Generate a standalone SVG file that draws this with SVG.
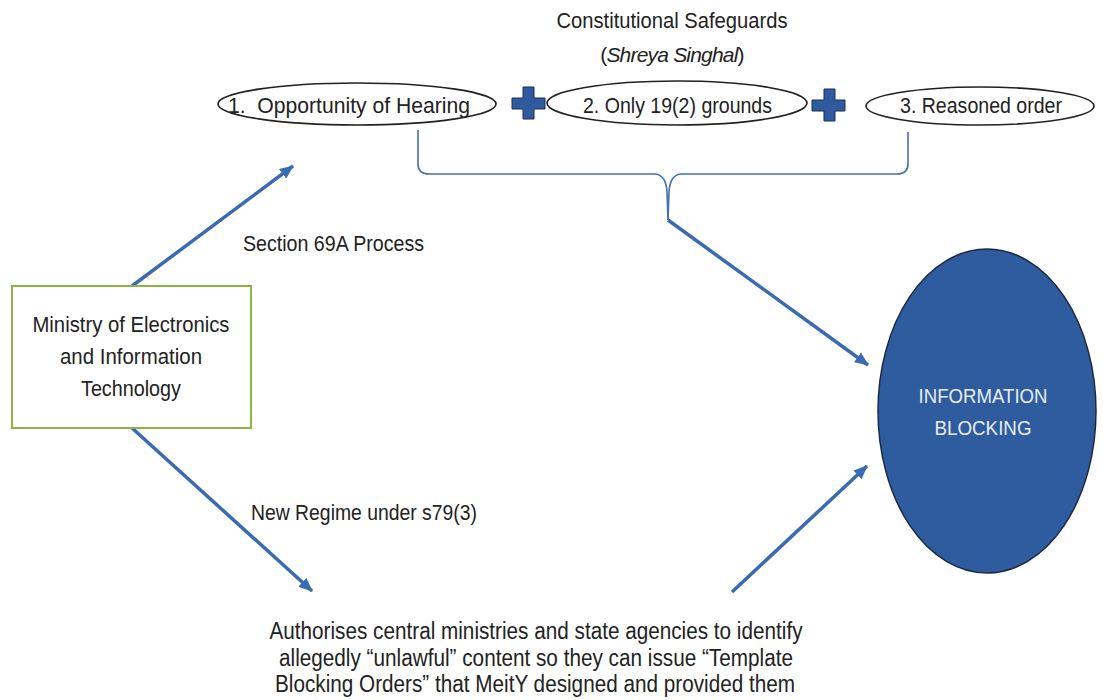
<svg xmlns="http://www.w3.org/2000/svg" width="1103" height="700" viewBox="0 0 1103 700">
<style>
  .t { font-family: "Liberation Sans Narrow", "Liberation Sans", Arial, sans-serif; fill: #222; }
  .lbl { font-size: 22px; }
  .oval { fill: #fff; stroke: #222; stroke-width: 1.6; }
  .conn { stroke: #3a6bb0; stroke-width: 3.5; fill: none; }
  .brace { stroke: #4670ad; stroke-width: 1.6; fill: none; }
  .plus { fill: #2f5b9e; stroke: #1c2f55; stroke-width: 1; }
</style>
<defs>
  <marker id="ah" markerUnits="userSpaceOnUse" markerWidth="14" markerHeight="12" refX="13" refY="6" orient="auto">
    <path d="M0,0 L14,6 L0,12 z" fill="#3a6bb0"/>
  </marker>
</defs>
<rect width="1103" height="700" fill="#fff"/>

<g id="title">
  <text class="t lbl" x="672" y="28" text-anchor="middle" textLength="231" lengthAdjust="spacingAndGlyphs">Constitutional Safeguards</text>
  <text class="t" font-size="21" letter-spacing="-0.8" x="672" y="62" text-anchor="middle">(<tspan font-style="italic">Shreya Singhal</tspan>)</text>
</g>

<g id="connectors">
  <path class="brace" d="M418,130 L418,164 Q418,174 429,174 L654,174 Q666,174 667,192 L668,220"/>
  <path class="brace" d="M908,132 L908,164 Q908,174 897,174 L682,174 Q670,174 669,192 L668,220"/>
  <line class="conn" x1="668" y1="220" x2="868" y2="365" marker-end="url(#ah)"/>
  <line class="conn" x1="132" y1="286" x2="293" y2="166" marker-end="url(#ah)"/>
  <line class="conn" x1="132" y1="428" x2="312" y2="591" marker-end="url(#ah)"/>
  <line class="conn" x1="732" y1="592" x2="867" y2="466" marker-end="url(#ah)"/>
</g>

<g id="safeguard1">
  <ellipse class="oval" cx="357" cy="104" rx="139" ry="21"/>
  <text class="t lbl" x="228" y="113" textLength="242" lengthAdjust="spacingAndGlyphs">1.&#160; Opportunity of Hearing</text>
</g>
<g id="plus1">
  <path class="plus" d="M523,87 H534 V98 H545 V109 H534 V119 H523 V109 H512 V98 H523 Z"/>
</g>
<g id="safeguard2">
  <ellipse class="oval" cx="677" cy="103" rx="130" ry="22"/>
  <text class="t lbl" x="583" y="113" textLength="189" lengthAdjust="spacingAndGlyphs">2. Only 19(2) grounds</text>
</g>
<g id="plus2">
  <path class="plus" d="M824,89 H835 V100 H845 V111 H835 V121 H824 V111 H812 V100 H824 Z"/>
</g>
<g id="safeguard3">
  <ellipse class="oval" cx="980" cy="106" rx="114" ry="19"/>
  <text class="t lbl" x="900" y="113" textLength="162" lengthAdjust="spacingAndGlyphs">3. Reasoned order</text>
</g>

<g id="meity">
  <rect x="12" y="286" width="239" height="142" fill="#fff" stroke="#8cb43e" stroke-width="2"/>
  <text class="t lbl" x="131" y="332" text-anchor="middle" textLength="197" lengthAdjust="spacingAndGlyphs">Ministry of Electronics</text>
  <text class="t lbl" x="131" y="364" text-anchor="middle" textLength="142" lengthAdjust="spacingAndGlyphs">and Information</text>
  <text class="t lbl" x="131" y="396" text-anchor="middle" textLength="100" lengthAdjust="spacingAndGlyphs">Technology</text>
</g>

<g id="label-69a">
  <text class="t lbl" x="243" y="251" textLength="181" lengthAdjust="spacingAndGlyphs">Section 69A Process</text>
</g>
<g id="label-s79">
  <text class="t lbl" x="251" y="520" textLength="226" lengthAdjust="spacingAndGlyphs">New Regime under s79(3)</text>
</g>

<g id="blocking">
  <ellipse cx="987" cy="411" rx="109" ry="162" fill="#2e5c9f" stroke="#1d2940" stroke-width="1.5"/>
  <text x="983" y="403" text-anchor="middle" font-family="Liberation Sans Narrow, Liberation Sans, Arial, sans-serif" font-size="21" fill="#e8edf4" textLength="129" lengthAdjust="spacingAndGlyphs">INFORMATION</text>
  <text x="983" y="435" text-anchor="middle" font-family="Liberation Sans Narrow, Liberation Sans, Arial, sans-serif" font-size="21" fill="#e8edf4" textLength="97" lengthAdjust="spacingAndGlyphs">BLOCKING</text>
</g>

<g id="template-orders">
  <text class="t" font-size="23" x="536" y="639" text-anchor="middle" textLength="533" lengthAdjust="spacingAndGlyphs">Authorises central ministries and state agencies to identify</text>
  <text class="t" font-size="23" x="536" y="666" text-anchor="middle" textLength="514" lengthAdjust="spacingAndGlyphs">allegedly “unlawful” content so they can issue “Template</text>
  <text class="t" font-size="23" x="535" y="692" text-anchor="middle" textLength="520" lengthAdjust="spacingAndGlyphs">Blocking Orders” that MeitY designed and provided them</text>
</g>
</svg>
